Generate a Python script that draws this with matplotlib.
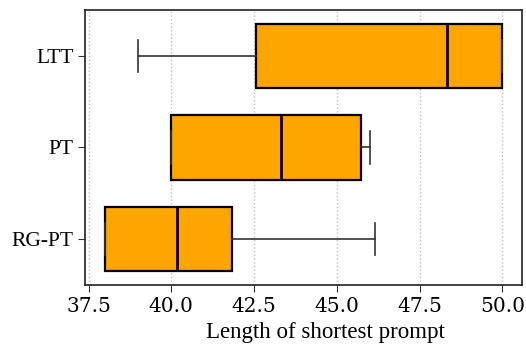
import matplotlib
matplotlib.use("Agg")
import matplotlib.pyplot as plt

# five-number summaries per method (whisker low, Q1, median, Q3, whisker high)
methods = ["LTT", "PT", "RG-PT"]
whislo = [39.0, 40.0, 38.0]
q1 = [42.56, 40.0, 38.0]
med = [48.34, 43.32, 40.17]
q3 = [50.0, 45.72, 41.83]
whishi = [50.0, 46.0, 46.14]
xticks = [37.5, 40.0, 42.5, 45.0, 47.5, 50.0]

stats = []
for i, name in enumerate(methods):
    stats.append(dict(label=name, whislo=whislo[i], q1=q1[i], med=med[i],
                      q3=q3[i], whishi=whishi[i], fliers=[]))

fig, ax = plt.subplots(figsize=(5.26, 3.45), dpi=100)
fig.subplots_adjust(left=0.162, right=0.993, top=0.971, bottom=0.174)

ax.bxp(stats, positions=range(len(methods)), vert=False, widths=0.7,
       patch_artist=True, showfliers=False,
       boxprops=dict(facecolor="#FFA500", edgecolor="black", linewidth=1.6),
       medianprops=dict(color="black", linewidth=2.0),
       whiskerprops=dict(color="#333333", linewidth=1.2),
       capprops=dict(color="#333333", linewidth=1.2),
       capwidths=0.35)

ax.set_ylim(len(methods) - 0.5, -0.5)
ax.set_xlim(37.4, 50.6)
ax.set_xticks(xticks)
ax.set_xticklabels([f"{t:.1f}" for t in xticks], family="DejaVu Serif", fontsize=14.5)
ax.set_yticks(range(len(methods)))
ax.set_yticklabels(methods, family="Liberation Serif", fontsize=15.5)
ax.xaxis.grid(True, linestyle=":", color="#C0C0C0", linewidth=1.0)
ax.set_axisbelow(True)
ax.tick_params(axis="both", length=5, color="#333333")
ax.tick_params(axis="x", pad=4)
for s in ax.spines.values():
    s.set_color("#222222")
    s.set_linewidth(1.2)

ax.set_xlabel("Length of shortest prompt", family="Liberation Serif", fontsize=16.5)
ax.xaxis.set_label_coords(0.55, -0.135)

fig.savefig("out.png", dpi=100)
